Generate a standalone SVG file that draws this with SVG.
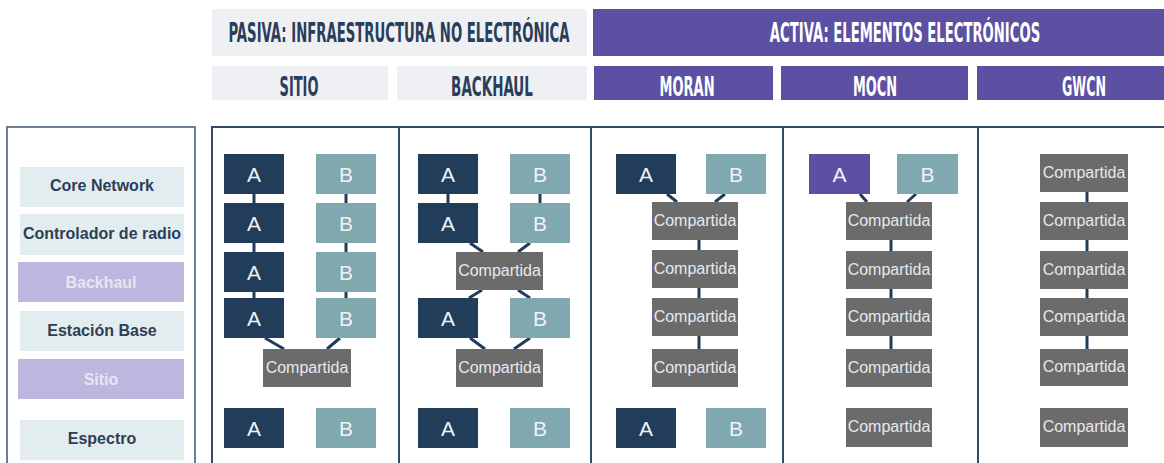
<svg xmlns="http://www.w3.org/2000/svg" width="1164" height="463" viewBox="0 0 1164 463">
<style>
.hp{fill:#eff0f3}
.ha{fill:#5c50a2}
.ht{font-family:"DejaVu Sans Condensed","DejaVu Sans",sans-serif;font-weight:bold;font-size:26px;text-anchor:middle}
.dk{fill:#2a3d5a}
.wt{fill:#ffffff}
.lb{fill:#e3edf0}
.lp{fill:#bdb6de}
.lt{font-family:"Liberation Sans",Arial,sans-serif;font-weight:bold;font-size:16px;text-anchor:middle;fill:#2e3e55}
.lt2{font-family:"Liberation Sans",Arial,sans-serif;font-weight:bold;font-size:16px;text-anchor:middle;fill:#e8e5f0}
.a{fill:#223d5a}
.ap{fill:#5c50a2}
.b{fill:#7fa9ae}
.c{fill:#6b6b6b}
.nt{font-family:"Liberation Sans",Arial,sans-serif;font-size:21px;text-anchor:middle;fill:#f0f2f5}
.ct{font-family:"Liberation Sans",Arial,sans-serif;font-size:16px;text-anchor:middle;fill:#e8e8ee}
.ln{stroke:#223d5a;stroke-width:3;fill:none}
.grid{stroke:#344a66;stroke-width:2;fill:none}
</style>
<rect width="1164" height="463" fill="#ffffff"/>
<g id="headers">
<rect class="hp" x="212" y="9" width="375" height="47"/>
<text class="ht dk" transform="translate(399 42) scale(0.58 1)" x="0" y="0" textLength="588" lengthAdjust="spacingAndGlyphs">PASIVA: INFRAESTRUCTURA NO ELECTRÓNICA</text>
<rect class="ha" x="593" y="9" width="571" height="47"/>
<text class="ht wt" transform="translate(905 42) scale(0.58 1)" x="0" y="0" textLength="466" lengthAdjust="spacingAndGlyphs">ACTIVA: ELEMENTOS ELECTRÓNICOS</text>
<rect class="hp" x="212" y="66" width="176" height="34"/>
<text class="ht dk" transform="translate(299 96) scale(0.58 1)" x="0" y="0" textLength="67" lengthAdjust="spacingAndGlyphs">SITIO</text>
<rect class="hp" x="397" y="66" width="190" height="34"/>
<text class="ht dk" transform="translate(492 96) scale(0.58 1)" x="0" y="0" textLength="141" lengthAdjust="spacingAndGlyphs">BACKHAUL</text>
<rect class="ha" x="594" y="66" width="179" height="34"/>
<text class="ht wt" transform="translate(687 96) scale(0.58 1)" x="0" y="0" textLength="95" lengthAdjust="spacingAndGlyphs">MORAN</text>
<rect class="ha" x="781" y="66" width="187" height="34"/>
<text class="ht wt" transform="translate(875 96) scale(0.58 1)" x="0" y="0" textLength="76" lengthAdjust="spacingAndGlyphs">MOCN</text>
<rect class="ha" x="977" y="66" width="187" height="34"/>
<text class="ht wt" transform="translate(1084 96) scale(0.58 1)" x="0" y="0" textLength="76" lengthAdjust="spacingAndGlyphs">GWCN</text>
</g>
<g id="frames">
<rect x="7" y="127" width="188" height="350" fill="none" stroke="#6d7d90" stroke-width="2"/>
<path class="grid" d="M212 470V127H1170M399 127V470M591 127V470M783 127V470M978 127V470"/>
</g>
<g id="row-labels">
<g id="lbl-core"><rect class="lb" x="20" y="167" width="164" height="40"/><text class="lt" x="102" y="191">Core Network</text></g>
<g id="lbl-ctrl"><rect class="lb" x="20" y="214" width="164" height="41"/><text class="lt" x="102" y="239">Controlador de radio</text></g>
<g id="lbl-backhaul"><rect class="lp" x="18" y="262" width="166" height="40"/><text class="lt2" x="101" y="288">Backhaul</text></g>
<g id="lbl-eb"><rect class="lb" x="20" y="311" width="164" height="40"/><text class="lt" x="102" y="336">Estación Base</text></g>
<g id="lbl-sitio"><rect class="lp" x="18" y="359" width="166" height="40"/><text class="lt2" x="101" y="385">Sitio</text></g>
<g id="lbl-esp"><rect class="lb" x="20" y="420" width="164" height="40"/><text class="lt" x="102" y="444">Espectro</text></g>
</g>
<g id="connectors">
<path class="ln" d="M254 194V203M254 243V252M254 292V298M346 194V203M346 243V252M346 292V298M265 338L284 349M340 338L327 349"/>
<path class="ln" d="M448 194V203M540 194V203M470 243L483 252M530 243L518 252M482 290L469 298M518 290L530 298M470 338L485 349M530 338L514 349"/>
<path class="ln" d="M667 194L677 202M725 194L715 202M699 240V250M699 288V298M699 336V349"/>
<path class="ln" d="M860 194L867 202M916 194L907 202M891 240V251M891 289V298M891 336V349"/>
<path class="ln" d="M1087 192V202M1087 240V251M1087 289V298M1087 336V349"/>
</g>
<g id="sitio-col">
<g id="s-a1"><rect class="a" x="224" y="154" width="60" height="40"/><text class="nt" x="254" y="182">A</text></g>
<g id="s-b1"><rect class="b" x="316" y="154" width="60" height="40"/><text class="nt" x="346" y="182">B</text></g>
<g id="s-a2"><rect class="a" x="224" y="203" width="60" height="40"/><text class="nt" x="254" y="231">A</text></g>
<g id="s-b2"><rect class="b" x="316" y="203" width="60" height="40"/><text class="nt" x="346" y="231">B</text></g>
<g id="s-a3"><rect class="a" x="224" y="252" width="60" height="40"/><text class="nt" x="254" y="280">A</text></g>
<g id="s-b3"><rect class="b" x="316" y="252" width="60" height="40"/><text class="nt" x="346" y="280">B</text></g>
<g id="s-a4"><rect class="a" x="224" y="298" width="60" height="40"/><text class="nt" x="254" y="326">A</text></g>
<g id="s-b4"><rect class="b" x="316" y="298" width="60" height="40"/><text class="nt" x="346" y="326">B</text></g>
<g id="s-c5"><rect class="c" x="263" y="349" width="88" height="38"/><text class="ct" x="307" y="373">Compartida</text></g>
<g id="s-a6"><rect class="a" x="224" y="408" width="60" height="40"/><text class="nt" x="254" y="436">A</text></g>
<g id="s-b6"><rect class="b" x="316" y="408" width="60" height="40"/><text class="nt" x="346" y="436">B</text></g>
</g>
<g id="backhaul-col">
<g id="bh-a1"><rect class="a" x="418" y="154" width="60" height="40"/><text class="nt" x="448" y="182">A</text></g>
<g id="bh-b1"><rect class="b" x="510" y="154" width="60" height="40"/><text class="nt" x="540" y="182">B</text></g>
<g id="bh-a2"><rect class="a" x="418" y="203" width="60" height="40"/><text class="nt" x="448" y="231">A</text></g>
<g id="bh-b2"><rect class="b" x="510" y="203" width="60" height="40"/><text class="nt" x="540" y="231">B</text></g>
<g id="bh-c3"><rect class="c" x="456" y="252" width="87" height="38"/><text class="ct" x="499.5" y="276">Compartida</text></g>
<g id="bh-a4"><rect class="a" x="418" y="298" width="60" height="40"/><text class="nt" x="448" y="326">A</text></g>
<g id="bh-b4"><rect class="b" x="510" y="298" width="60" height="40"/><text class="nt" x="540" y="326">B</text></g>
<g id="bh-c5"><rect class="c" x="456" y="349" width="87" height="38"/><text class="ct" x="499.5" y="373">Compartida</text></g>
<g id="bh-a6"><rect class="a" x="418" y="408" width="60" height="40"/><text class="nt" x="448" y="436">A</text></g>
<g id="bh-b6"><rect class="b" x="510" y="408" width="60" height="40"/><text class="nt" x="540" y="436">B</text></g>
</g>
<g id="moran-col">
<g id="mr-a1"><rect class="a" x="616" y="154" width="60" height="40"/><text class="nt" x="646" y="182">A</text></g>
<g id="mr-b1"><rect class="b" x="706" y="154" width="60" height="40"/><text class="nt" x="736" y="182">B</text></g>
<g id="mr-c2"><rect class="c" x="652" y="202" width="86" height="38"/><text class="ct" x="695" y="226">Compartida</text></g>
<g id="mr-c3"><rect class="c" x="652" y="250" width="86" height="38"/><text class="ct" x="695" y="274">Compartida</text></g>
<g id="mr-c4"><rect class="c" x="652" y="298" width="86" height="38"/><text class="ct" x="695" y="322">Compartida</text></g>
<g id="mr-c5"><rect class="c" x="652" y="349" width="86" height="38"/><text class="ct" x="695" y="373">Compartida</text></g>
<g id="mr-a6"><rect class="a" x="616" y="408" width="60" height="40"/><text class="nt" x="646" y="436">A</text></g>
<g id="mr-b6"><rect class="b" x="706" y="408" width="60" height="40"/><text class="nt" x="736" y="436">B</text></g>
</g>
<g id="mocn-col">
<g id="mc-a1"><rect class="ap" x="809" y="154" width="61" height="40"/><text class="nt" x="839.5" y="182">A</text></g>
<g id="mc-b1"><rect class="b" x="897" y="154" width="61" height="40"/><text class="nt" x="927.5" y="182">B</text></g>
<g id="mc-c2"><rect class="c" x="846" y="202" width="86" height="38"/><text class="ct" x="889" y="226">Compartida</text></g>
<g id="mc-c3"><rect class="c" x="846" y="251" width="86" height="38"/><text class="ct" x="889" y="275">Compartida</text></g>
<g id="mc-c4"><rect class="c" x="846" y="298" width="86" height="38"/><text class="ct" x="889" y="322">Compartida</text></g>
<g id="mc-c5"><rect class="c" x="846" y="349" width="86" height="38"/><text class="ct" x="889" y="373">Compartida</text></g>
<g id="mc-c6"><rect class="c" x="846" y="408" width="86" height="39"/><text class="ct" x="889" y="432">Compartida</text></g>
</g>
<g id="gwcn-col">
<g id="gw-c1"><rect class="c" x="1040" y="154" width="88" height="38"/><text class="ct" x="1084" y="178">Compartida</text></g>
<g id="gw-c2"><rect class="c" x="1040" y="202" width="88" height="38"/><text class="ct" x="1084" y="226">Compartida</text></g>
<g id="gw-c3"><rect class="c" x="1040" y="251" width="88" height="38"/><text class="ct" x="1084" y="275">Compartida</text></g>
<g id="gw-c4"><rect class="c" x="1040" y="298" width="88" height="38"/><text class="ct" x="1084" y="322">Compartida</text></g>
<g id="gw-c5"><rect class="c" x="1040" y="349" width="88" height="37"/><text class="ct" x="1084" y="372">Compartida</text></g>
<g id="gw-c6"><rect class="c" x="1040" y="408" width="88" height="39"/><text class="ct" x="1084" y="432">Compartida</text></g>
</g>
</svg>
